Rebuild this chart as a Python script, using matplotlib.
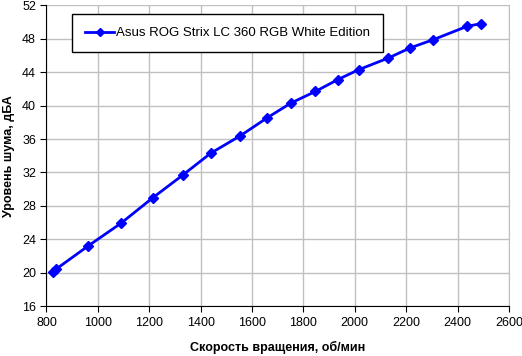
import matplotlib
matplotlib.use("Agg")
import matplotlib.pyplot as plt

plt.rcParams['font.family'] = ['Liberation Sans', 'DejaVu Sans']

# скорость вращения, об/мин
rpm = [826, 836, 962, 1089, 1215, 1331, 1439, 1555, 1657, 1751, 1847, 1933, 2015, 2131, 2215, 2306, 2438, 2490]
# уровень шума, дБА
noise = [20.1, 20.4, 23.2, 25.9, 29.0, 31.7, 34.3, 36.4, 38.5, 40.3, 41.7, 43.1, 44.3, 45.7, 46.9, 47.9, 49.5, 49.8]
label = "Asus ROG Strix LC 360 RGB White Edition"

fig = plt.figure(figsize=(5.22, 3.56), dpi=100)
ax = fig.add_axes([0.089, 0.140, 0.886, 0.845])

ax.plot(rpm, noise, color='#0000FF', lw=2, marker='D', ms=5.5, label=label)

ax.set_xlim(800, 2600)
ax.set_ylim(16, 52)
ax.set_xticks(range(800, 2601, 200))
ax.set_yticks(range(16, 53, 4))
ax.grid(True, color='#C0C0C0', lw=1)
ax.set_axisbelow(True)
ax.tick_params(direction='out', length=4, labelsize=9, color='black')
for s in ax.spines.values():
    s.set_color('black')
ax.spines['top'].set_visible(False)
ax.spines['right'].set_color('#C0C0C0')

ax.set_xlabel("Скорость вращения, об/мин", fontsize=9, fontweight='bold', labelpad=9)
ax.set_ylabel("Уровень шума, дБА", fontsize=9, fontweight='bold', labelpad=5)

leg = ax.legend(loc='upper left', bbox_to_anchor=(0.055, 0.972), prop={'size': 9.5}, frameon=True,
                fancybox=False, edgecolor='black', framealpha=1, handlelength=2.2,
                handletextpad=0.15, borderpad=1.0, borderaxespad=0)
leg.get_frame().set_linewidth(1)
leg.legend_handles[0].set_markersize(4)

fig.savefig("out.png", dpi=100)
